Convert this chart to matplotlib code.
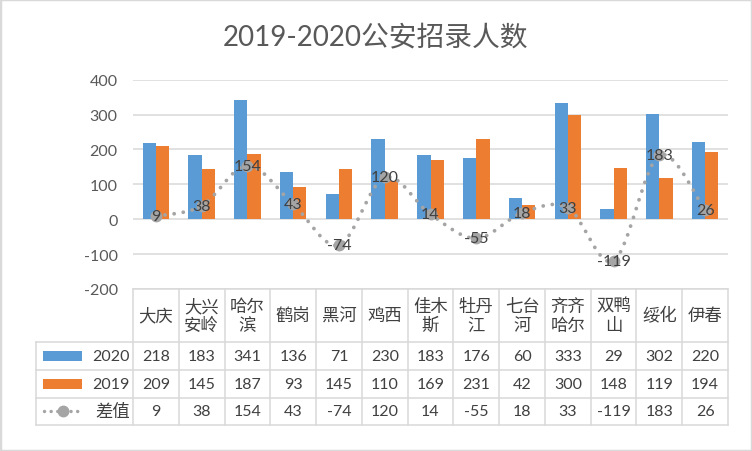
import numpy as np
import matplotlib
matplotlib.use('Agg')
import matplotlib.pyplot as plt
from matplotlib.path import Path
from matplotlib.patches import PathPatch, Rectangle
from matplotlib.lines import Line2D
from matplotlib.transforms import blended_transform_factory

plt.rcParams['font.family'] = ['Lato', 'Noto Sans CJK SC', 'DejaVu Sans']
plt.rcParams['axes.unicode_minus'] = False

title = '2019-2020公安招录人数'
categories = ['大庆', '大兴\n安岭', '哈尔\n滨', '鹤岗', '黑河', '鸡西', '佳木\n斯',
              '牡丹\n江', '七台\n河', '齐齐\n哈尔', '双鸭\n山', '绥化', '伊春']
v2020 = [218, 183, 341, 136, 71, 230, 183, 176, 60, 333, 29, 302, 220]
v2019 = [209, 145, 187, 93, 145, 110, 169, 231, 42, 300, 148, 119, 194]
diff = [9, 38, 154, 43, -74, 120, 14, -55, 18, 33, -119, 183, 26]
series_names = ['2020', '2019', '差值']
yticks = [-200, -100, 0, 100, 200, 300, 400]

C_BLUE = '#5B9BD5'
C_ORANGE = '#ED7D31'
C_GREY = '#A5A5A5'
C_GRID = '#D9D9D9'
C_TEXT = '#404040'
C_AXIS = '#595959'
CJK = ['Noto Sans CJK SC', 'DejaVu Sans']
NUM = ['Lato', 'Noto Sans CJK SC', 'DejaVu Sans']

W, H = 752, 452
fig = plt.figure(figsize=(W / 100, H / 100), dpi=100)


def fx(px):
    return px / W


def fy(py):
    return 1 - py / H


L, R, T, B = 133, 728, 80.7, 290
ax = fig.add_axes([fx(L), fy(B), fx(R) - fx(L), fy(T) - fy(B)])
n = len(categories)
x = np.arange(n)
bw = 0.29
ax.bar(x - bw / 2, v2020, bw, color=C_BLUE, zorder=2)
ax.bar(x + bw / 2, v2019, bw, color=C_ORANGE, zorder=2)
ax.set_xlim(-0.5, n - 0.5)
ax.set_ylim(-200, 400)
ax.set_yticks(yticks)
ax.set_xticks([])
ax.grid(axis='y', color=C_GRID, lw=1.1, zorder=0)
ax.set_axisbelow(True)
for s in ax.spines.values():
    s.set_visible(False)
ax.tick_params(axis='y', length=0, pad=11, labelsize=11.5, labelcolor=C_AXIS)
for lab in ax.get_yticklabels():
    lab.set_family(NUM)

# smoothed dotted difference line
pts = np.column_stack([x, diff]).astype(float)
P = np.vstack([pts[0], pts, pts[-1]])
verts = [pts[0]]
codes = [Path.MOVETO]
for i in range(n - 1):
    p0, p1, p2, p3 = P[i], P[i + 1], P[i + 2], P[i + 3]
    c1 = p1 + (p2 - p0) / 6
    c2 = p2 - (p3 - p1) / 6
    verts += [c1, c2, p2]
    codes += [Path.CURVE4] * 3
dot_style = (0, (0.01, 2.4))
patch = PathPatch(Path(verts, codes), fill=False, edgecolor=C_GREY, lw=2.75,
                  linestyle=dot_style, capstyle='round', zorder=3)
ax.add_patch(patch)
ax.plot(x, diff, 'o', color=C_GREY, ms=7.5, zorder=4)
for xi, d in zip(x, diff):
    ax.text(xi, d, str(d), ha='center', va='center', fontsize=11.5,
            color=C_TEXT, zorder=5, family=NUM)

# data table
trans = blended_transform_factory(ax.transData, fig.transFigure)
rows_y = [290, 342.7, 370.7, 399, 425.7]
LEG_L = 36
lw_t = 1.1
fig.add_artist(Line2D([fx(L), fx(R)], [fy(rows_y[0])] * 2, color=C_GRID, lw=lw_t))
for yy in rows_y[1:]:
    fig.add_artist(Line2D([fx(LEG_L), fx(R)], [fy(yy)] * 2, color=C_GRID, lw=lw_t))
for i in range(n + 1):
    fig.add_artist(Line2D([i - 0.5, i - 0.5], [fy(rows_y[0]), fy(rows_y[-1])],
                          color=C_GRID, lw=lw_t, transform=trans))
fig.add_artist(Line2D([fx(LEG_L)] * 2, [fy(rows_y[1]), fy(rows_y[-1])],
                      color=C_GRID, lw=lw_t))

hdr_c = (rows_y[0] + rows_y[1]) / 2
for i, c in enumerate(categories):
    fig.text(i, fy(hdr_c), c, transform=trans, ha='center', va='center',
             fontsize=12.5, color=C_TEXT, family=CJK, linespacing=1.05)

row_vals = [v2020, v2019, diff]
for r, vals in enumerate(row_vals):
    yc = (rows_y[r + 1] + rows_y[r + 2]) / 2
    for i, v in enumerate(vals):
        fig.text(i, fy(yc), str(v), transform=trans, ha='center', va='center',
                 fontsize=11.5, color=C_TEXT, family=NUM)
    fig.text(fx(130), fy(yc), series_names[r], ha='right', va='center',
             fontsize=12.5 if r == 2 else 11.5, color=C_TEXT,
             family=CJK if r == 2 else NUM)

# legend keys
for r, col in enumerate([C_BLUE, C_ORANGE]):
    yc = (rows_y[r + 1] + rows_y[r + 2]) / 2
    fig.add_artist(Rectangle((fx(43), fy(yc + 5)), fx(82) - fx(43), 10 / H,
                             facecolor=col, edgecolor='none'))
yc = (rows_y[3] + rows_y[4]) / 2
fig.add_artist(Line2D([fx(44), fx(81)], [fy(yc)] * 2, color=C_GREY, lw=2.5,
                      linestyle=(0, (0.01, 1.9)), dash_capstyle='round'))
fig.add_artist(Line2D([fx(62.5)], [fy(yc)], marker='o', ms=7.5, color=C_GREY))

# title
fig.text(0.5, fy(37), title, ha='center', va='center', fontsize=20, color=C_AXIS)

# outer border
fig.add_artist(Rectangle((0, 0), 1, 1, transform=fig.transFigure, fill=False,
                         edgecolor=C_GRID, lw=2.5))

fig.savefig('out.png', dpi=100, facecolor='white')
